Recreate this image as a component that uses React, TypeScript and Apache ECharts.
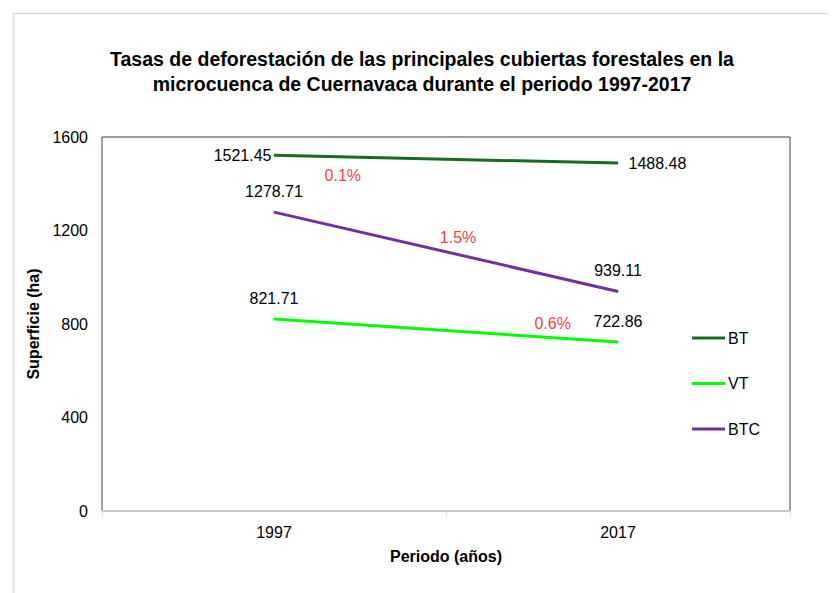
import React, { useEffect, useRef } from "react";
import * as echarts from "echarts";

const categories = ["1997", "2017"];
const btValues = [1521.45, 1488.48];
const vtValues = [821.71, 722.86];
const btcValues = [1278.71, 939.11];
const yTicks = [0, 400, 800, 1200, 1600];
// annotation rates: [x position in category units, y value, text]
const rateX = [0.2, 0.535, 0.81];
const rateY = [1437, 1172, 804];
const rateText = ["0.1%", "1.5%", "0.6%"];

const FONT = "Liberation Sans, Arial, sans-serif";
const FS = 16;

export default function App() {
  const ref = useRef<HTMLDivElement>(null);
  useEffect(() => {
    if (!ref.current) return;
    const chart = echarts.init(ref.current, null, { renderer: "svg" });
    const lineLabel = (pos: string, dist: number) => ({
      show: true,
      position: pos,
      distance: dist,
      color: "#000",
      fontSize: FS,
      fontFamily: FONT,
    });
    chart.setOption({
      animation: false,
      backgroundColor: "#fff",
      textStyle: { fontFamily: FONT },
      title: {
        text: "Tasas de deforestación de las principales cubiertas forestales en la\nmicrocuenca de Cuernavaca durante el periodo 1997-2017",
        left: "center",
        top: 38,
        padding: [0, 0, 0, 16],
        textStyle: {
          fontSize: 19.5,
          fontWeight: "bold",
          color: "#000",
          fontFamily: FONT,
          lineHeight: 25,
        },
      },
      graphic: [
        {
          type: "rect",
          left: 3,
          top: 3,
          shape: { width: 900, height: 700 },
          style: { fill: "none", stroke: "#d9d9d9", lineWidth: 1.5 },
          silent: true,
          z: -10,
        },
      ],
      legend: {
        orient: "vertical",
        left: 679,
        top: 317,
        itemGap: 29.5,
        itemWidth: 33,
        itemHeight: 3,
        icon: "rect",
        textStyle: { fontSize: FS, color: "#000", fontFamily: FONT, padding: [0, 0, 0, -2] },
        data: ["BT", "VT", "BTC"],
      },
      grid: {
        left: 94,
        top: 129,
        right: 46,
        bottom: 82,
        show: true,
        borderColor: "#404040",
        borderWidth: 1,
      },
      xAxis: [
        {
          type: "category",
          data: categories,
          boundaryGap: true,
          name: "Periodo (años)",
          nameLocation: "middle",
          nameGap: 37,
          nameTextStyle: { fontSize: FS, fontWeight: "bold", color: "#000", fontFamily: FONT },
          axisLine: { show: true, lineStyle: { color: "#d9d9d9", width: 1.5 } },
          axisTick: { show: true, length: 5, lineStyle: { color: "#d9d9d9" } },
          axisLabel: { fontSize: FS, color: "#000", margin: 13, fontFamily: FONT },
        },
        {
          type: "value",
          min: -0.5,
          max: 1.5,
          show: false,
        },
      ],
      yAxis: {
        type: "value",
        min: 0,
        max: 1600,
        interval: 400,
        name: "Superficie (ha)",
        nameLocation: "middle",
        nameGap: 54,
        nameRotate: 90,
        nameTextStyle: { fontSize: FS, fontWeight: "bold", color: "#000", fontFamily: FONT },
        axisLine: { show: false },
        axisTick: { show: false },
        splitLine: { show: false },
        axisLabel: {
          fontSize: FS,
          color: "#000",
          margin: 14,
          fontFamily: FONT,
          formatter: (v: number) => (yTicks.includes(v) ? String(v) : ""),
        },
      },
      series: [
        {
          name: "BT",
          type: "line",
          data: [
            { value: btValues[0], label: lineLabel("left", 2) },
            { value: btValues[1], label: lineLabel("right", 10) },
          ],
          symbol: "circle",
          symbolSize: 1,
          showSymbol: true,
          lineStyle: { color: "#1a6b1f", width: 3 },
          itemStyle: { color: "#1a6b1f" },
        },
        {
          name: "VT",
          type: "line",
          data: vtValues.map((v) => ({ value: v, label: lineLabel("top", 12) })),
          symbol: "circle",
          symbolSize: 1,
          showSymbol: true,
          lineStyle: { color: "#00ff00", width: 3 },
          itemStyle: { color: "#00ff00" },
        },
        {
          name: "BTC",
          type: "line",
          data: btcValues.map((v) => ({ value: v, label: lineLabel("top", 12) })),
          symbol: "circle",
          symbolSize: 1,
          showSymbol: true,
          lineStyle: { color: "#7030a0", width: 3 },
          itemStyle: { color: "#7030a0" },
        },
        {
          name: "rates",
          type: "scatter",
          xAxisIndex: 1,
          symbolSize: 0,
          data: rateX.map((x, i) => ({
            value: [x, rateY[i]],
            label: {
              show: true,
              position: "inside",
              formatter: rateText[i],
              color: "#ff0000",
              fontSize: FS,
              fontFamily: FONT,
            },
          })),
          silent: true,
        },
      ],
    });
    return () => chart.dispose();
  }, []);
  return <div ref={ref} style={{ width: 828, height: 585 }} />;
}
